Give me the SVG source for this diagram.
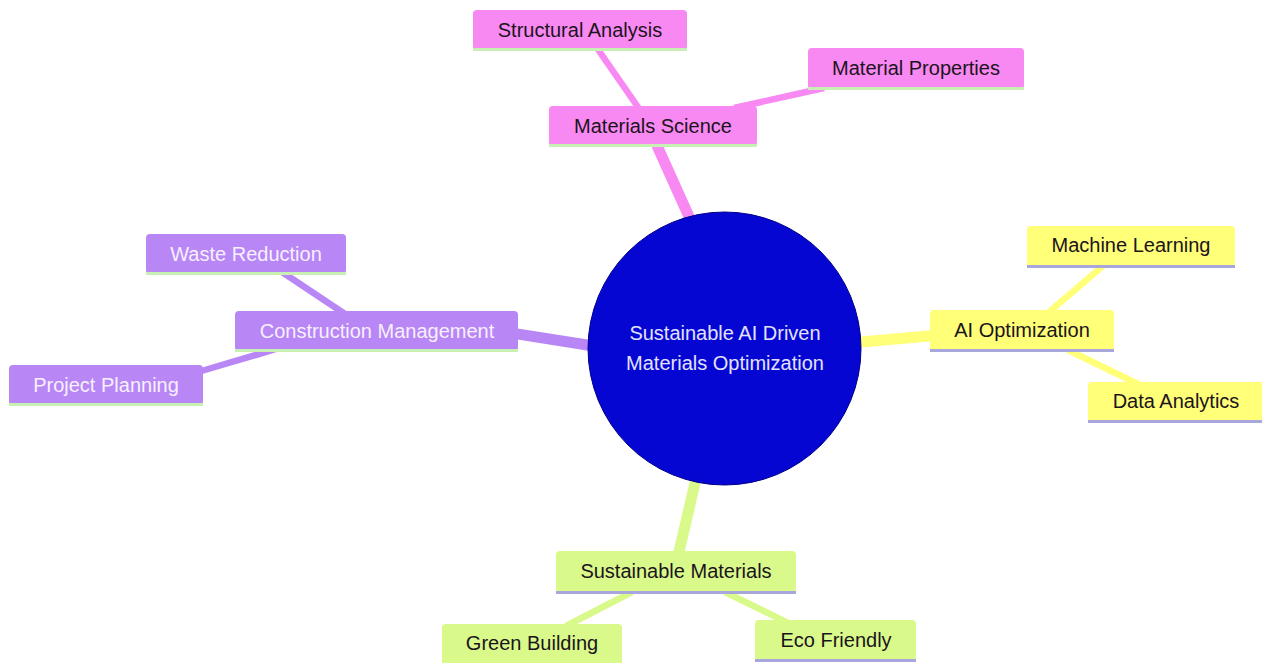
<svg xmlns="http://www.w3.org/2000/svg" width="1262" height="663" viewBox="0 0 1262 663">
<style>
text{font-family:"Liberation Sans",Arial,sans-serif;font-size:20px;text-anchor:middle;dominant-baseline:central}
.e0{stroke-width:11;stroke-linecap:butt;fill:none}
.e1{stroke-width:6.5;stroke-linecap:butt;fill:none}
.pk{fill:#f888f2}
.pu{fill:#b987f5}
.ye{fill:#ffff78}
.gr{fill:#d9fa8a}
.lg{stroke:#c8f0b4;stroke-width:3}
.lv{stroke:#a9a6de;stroke-width:3}
.dk{fill:#1c141c}
.wt{fill:#f6f0ff}
</style>
<rect width="1262" height="663" fill="#ffffff"/>
<g id="connectors">
<line class="e0" stroke="#f888f2" x1="704" y1="250" x2="650" y2="130"/>
<line class="e1" stroke="#f888f2" x1="640" y1="110" x2="597" y2="48"/>
<line class="e1" stroke="#f888f2" x1="734" y1="108" x2="824" y2="88"/>
<line class="e0" stroke="#b987f5" x1="505" y1="332" x2="600" y2="347"/>
<line class="e1" stroke="#b987f5" x1="345" y1="314" x2="282" y2="272"/>
<line class="e1" stroke="#b987f5" x1="276" y1="349" x2="198" y2="372"/>
<line class="e0" stroke="#ffff78" x1="850" y1="343" x2="940" y2="335"/>
<line class="e1" stroke="#ffff78" x1="1048" y1="313" x2="1104" y2="265"/>
<line class="e1" stroke="#ffff78" x1="1068" y1="350" x2="1140" y2="385"/>
<line class="e0" stroke="#d9fa8a" x1="698" y1="470" x2="678" y2="556"/>
<line class="e1" stroke="#d9fa8a" x1="632" y1="592" x2="566" y2="626"/>
<line class="e1" stroke="#d9fa8a" x1="725" y1="592" x2="790" y2="624"/>
</g>
<g id="root">
<circle cx="724.5" cy="348.5" r="136.5" fill="#0606d2" stroke="#00008a" stroke-width="1"/>
<text x="725" y="333" fill="#e2e2ff">Sustainable AI Driven</text>
<text x="725" y="363" fill="#e2e2ff">Materials Optimization</text>
</g>
<g id="materials-science">
<rect class="pk" x="549" y="106" width="208" height="40" rx="4"/>
<line class="lg" x1="549" y1="145.5" x2="757" y2="145.5"/>
<text class="dk" x="653" y="126">Materials Science</text>
</g>
<g id="structural-analysis">
<rect class="pk" x="473" y="10" width="214" height="40" rx="4"/>
<line class="lg" x1="473" y1="49.5" x2="687" y2="49.5"/>
<text class="dk" x="580" y="30">Structural Analysis</text>
</g>
<g id="material-properties">
<rect class="pk" x="808" y="48" width="216" height="41" rx="4"/>
<line class="lg" x1="808" y1="88.5" x2="1024" y2="88.5"/>
<text class="dk" x="916" y="68">Material Properties</text>
</g>
<g id="construction-management">
<rect class="pu" x="235" y="311" width="283" height="40" rx="4"/>
<line class="lg" x1="235" y1="350.5" x2="518" y2="350.5"/>
<text class="wt" x="377" y="331">Construction Management</text>
</g>
<g id="waste-reduction">
<rect class="pu" x="146" y="234" width="200" height="40" rx="4"/>
<line class="lg" x1="146" y1="273.5" x2="346" y2="273.5"/>
<text class="wt" x="246" y="254">Waste Reduction</text>
</g>
<g id="project-planning">
<rect class="pu" x="9" y="365" width="194" height="40" rx="4"/>
<line class="lg" x1="9" y1="404.5" x2="203" y2="404.5"/>
<text class="wt" x="106" y="385">Project Planning</text>
</g>
<g id="ai-optimization">
<rect class="ye" x="930" y="310" width="184" height="41" rx="4"/>
<line class="lv" x1="930" y1="350.5" x2="1114" y2="350.5"/>
<text class="dk" x="1022" y="330">AI Optimization</text>
</g>
<g id="machine-learning">
<rect class="ye" x="1027" y="226" width="208" height="41" rx="4"/>
<line class="lv" x1="1027" y1="266.5" x2="1235" y2="266.5"/>
<text class="dk" x="1131" y="245">Machine Learning</text>
</g>
<g id="data-analytics">
<rect class="ye" x="1088" y="382" width="178" height="40" rx="4"/>
<line class="lv" x1="1088" y1="421.5" x2="1262" y2="421.5"/>
<text class="dk" x="1176" y="401">Data Analytics</text>
</g>
<g id="sustainable-materials">
<rect class="gr" x="556" y="551" width="240" height="42" rx="4"/>
<line class="lv" x1="556" y1="592.5" x2="796" y2="592.5"/>
<text class="dk" x="676" y="571">Sustainable Materials</text>
</g>
<g id="green-building">
<rect class="gr" x="442" y="624" width="180" height="42" rx="4"/>
<text class="dk" x="532" y="643">Green Building</text>
</g>
<g id="eco-friendly">
<rect class="gr" x="755" y="620" width="161" height="41" rx="4"/>
<line class="lv" x1="755" y1="660.5" x2="916" y2="660.5"/>
<text class="dk" x="836" y="640">Eco Friendly</text>
</g>
</svg>
